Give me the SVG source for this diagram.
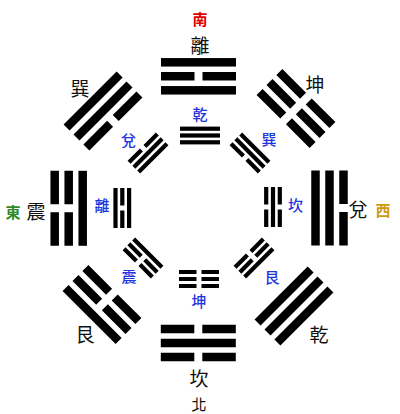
<svg xmlns="http://www.w3.org/2000/svg" xmlns:xlink="http://www.w3.org/1999/xlink" width="400" height="414" viewBox="0 0 400 414">
<style>
text{font-family:"Noto Sans CJK TC","Noto Sans CJK SC",sans-serif;text-anchor:middle;dominant-baseline:central}
.o{font-size:19px;fill:#111}
.c{font-size:15px;font-weight:bold}
.n{font-size:15px;fill:#111}
.i{font-size:15px;fill:#1f35e0;font-weight:500}
.bar{fill:#000}
</style>
<defs>
<rect id="oS" class="bar" x="-37.5" y="-4.25" width="75" height="8.5"/>
<path id="oB" class="bar" d="M-37.5,-4.25h33.5v8.5h-33.5z M4,-4.25h33.5v8.5h-33.5z"/>
<rect id="iS" class="bar" x="-20" y="-2.1" width="40" height="4.2"/>
<path id="iB" class="bar" d="M-20,-2.1h17.5v4.2h-17.5z M2.5,-2.1h17.5v4.2h-17.5z"/>
</defs>
<rect width="400" height="414" fill="#fff"/>

<g id="compass">
<text class="c" x="200" y="18" fill="#e00000">南</text>
<text class="c" x="13" y="211" fill="#2a8a2a">東</text>
<text class="c" x="383" y="209" fill="#d09a10">西</text>
<text class="n" x="199" y="403">北</text>
</g>

<g id="outer-li"><g transform="translate(198.5,76.3)"><use xlink:href="#oS" y="-14"/><use xlink:href="#oB" y="0"/><use xlink:href="#oS" y="14"/></g><text class="o" x="200" y="44">離</text></g>
<g id="outer-kun"><g transform="translate(296,108.5) rotate(45)"><use xlink:href="#oB" y="-14"/><use xlink:href="#oB" y="0"/><use xlink:href="#oB" y="14"/></g><text class="o" x="315" y="83">坤</text></g>
<g id="outer-dui"><g transform="translate(329.5,208) rotate(90)"><use xlink:href="#oB" y="-14"/><use xlink:href="#oS" y="0"/><use xlink:href="#oS" y="14"/></g><text class="o" x="358" y="208">兌</text></g>
<g id="outer-qian"><g transform="translate(294,306) rotate(135)"><use xlink:href="#oS" y="-14"/><use xlink:href="#oS" y="0"/><use xlink:href="#oS" y="14"/></g><text class="o" x="319" y="333">乾</text></g>
<g id="outer-kan"><g transform="translate(198.3,343) rotate(180)"><use xlink:href="#oB" y="-14"/><use xlink:href="#oS" y="0"/><use xlink:href="#oB" y="14"/></g><text class="o" x="199" y="377">坎</text></g>
<g id="outer-gen"><g transform="translate(102,304.5) rotate(-135)"><use xlink:href="#oS" y="-14"/><use xlink:href="#oB" y="0"/><use xlink:href="#oB" y="14"/></g><text class="o" x="85" y="333">艮</text></g>
<g id="outer-zhen"><g transform="translate(68.7,208.3) rotate(-90)"><use xlink:href="#oB" y="-14"/><use xlink:href="#oB" y="0"/><use xlink:href="#oS" y="14"/></g><text class="o" x="36" y="210">震</text></g>
<g id="outer-xun"><g transform="translate(103,111) rotate(-45)"><use xlink:href="#oS" y="-14"/><use xlink:href="#oS" y="0"/><use xlink:href="#oB" y="14"/></g><text class="o" x="80" y="87">巽</text></g>

<g id="inner-qian"><g transform="translate(200,135.5)"><use xlink:href="#iS" y="-6.8"/><use xlink:href="#iS" y="0"/><use xlink:href="#iS" y="6.8"/></g><text class="i" x="200" y="113.5">乾</text></g>
<g id="inner-xun"><g transform="translate(250,153) rotate(45)"><use xlink:href="#iS" y="-6.8"/><use xlink:href="#iS" y="0"/><use xlink:href="#iB" y="6.8"/></g><text class="i" x="269" y="138">巽</text></g>
<g id="inner-kan"><g transform="translate(273,207) rotate(90)"><use xlink:href="#iB" y="-6.8"/><use xlink:href="#iS" y="0"/><use xlink:href="#iB" y="6.8"/></g><text class="i" x="295.5" y="204">坎</text></g>
<g id="inner-gen"><g transform="translate(254,258) rotate(135)"><use xlink:href="#iS" y="-6.8"/><use xlink:href="#iB" y="0"/><use xlink:href="#iB" y="6.8"/></g><text class="i" x="272" y="276">艮</text></g>
<g id="inner-kun"><g transform="translate(199,279) rotate(180)"><use xlink:href="#iB" y="-7"/><use xlink:href="#iB" y="0"/><use xlink:href="#iB" y="7"/></g><text class="i" x="199" y="300">坤</text></g>
<g id="inner-zhen"><g transform="translate(143,258) rotate(-135)"><use xlink:href="#iB" y="-6.8"/><use xlink:href="#iB" y="0"/><use xlink:href="#iS" y="6.8"/></g><text class="i" x="129" y="275">震</text></g>
<g id="inner-li"><g transform="translate(122.3,208) rotate(-90)"><use xlink:href="#iS" y="-6.8"/><use xlink:href="#iB" y="0"/><use xlink:href="#iS" y="6.8"/></g><text class="i" x="102" y="204">離</text></g>
<g id="inner-dui"><g transform="translate(148,153) rotate(-45)"><use xlink:href="#iB" y="-6.8"/><use xlink:href="#iS" y="0"/><use xlink:href="#iS" y="6.8"/></g><text class="i" x="128.5" y="139.5">兌</text></g>

<g id="connectors"></g>
</svg>
